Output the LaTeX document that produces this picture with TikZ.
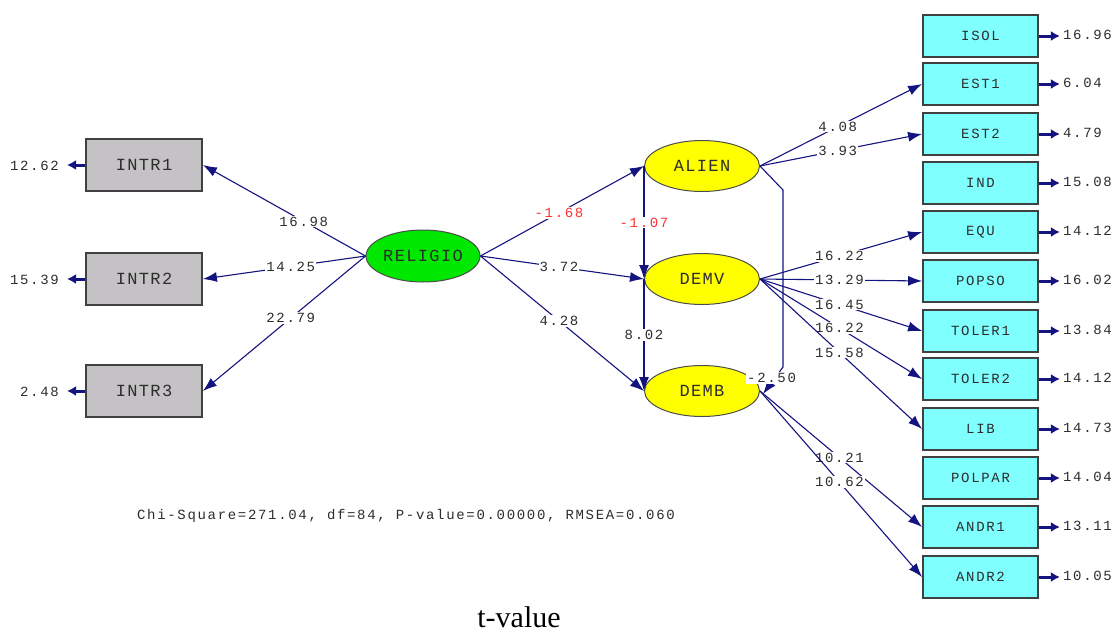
\documentclass[tikz,border=0pt]{standalone}
\usepackage{fontspec}
\usetikzlibrary{arrows.meta,shapes.geometric}
\newfontfamily\lisfont[LetterSpace=12]{Liberation Mono}
\newfontfamily\lisbig[LetterSpace=8]{Liberation Mono}
\setmainfont{Liberation Serif}
\definecolor{linec}{RGB}{20,20,128}
\definecolor{boxgrey}{RGB}{196,194,196}
\definecolor{boxcyan}{RGB}{128,255,255}
\definecolor{latyel}{RGB}{255,255,0}
\definecolor{latgreen}{RGB}{0,232,0}
\definecolor{txtc}{RGB}{45,45,45}
\definecolor{redc}{RGB}{255,50,50}
\tikzset{
  lat/.style={ellipse, draw=black!70, line width=1pt, minimum width=115, minimum height=51, inner sep=0pt, font=\fontsize{17}{17}\lisbig, text=txtc},
  gbox/.style={rectangle, draw=black!75, line width=1.8pt, fill=boxgrey, minimum width=116, minimum height=52, inner sep=0pt, font=\fontsize{17}{17}\lisbig, text=txtc},
  cbox/.style={rectangle, draw=black!75, line width=1.8pt, fill=boxcyan, minimum width=115, minimum height=42, inner sep=0pt, font=\fontsize{14}{14}\lisfont, text=txtc},
  arr/.style={draw=linec, line width=1.1pt, -{Latex[length=14pt,width=10pt]}},
  errarr/.style={draw=linec, line width=3pt, -{Latex[length=9pt,width=10pt]}},
  lab/.style={fill=white, inner sep=1pt, font=\fontsize{14}{14}\lisfont, text=txtc},
  rlab/.style={lab, text=redc},
  elab/.style={inner sep=1pt, font=\fontsize{14}{14}\lisfont, text=txtc},
}
\begin{document}
\begin{tikzpicture}[x=1pt,y=-1pt]
\useasboundingbox[fill=white] (0,0) rectangle (1115,632);
% latent variables
\node[lat, fill=latgreen, minimum width=114, minimum height=52] (REL) at (423,256) {RELIGIO};
\node[lat, fill=latyel] (ALIEN) at (702,166) {ALIEN};
\node[lat, fill=latyel] (DEMV) at (702,279) {DEMV};
\node[lat, fill=latyel] (DEMB) at (702,391) {DEMB};
% left indicators
\node[gbox] (INTR1) at (144,165) {INTR1};
\node[gbox] (INTR2) at (144,279) {INTR2};
\node[gbox] (INTR3) at (144,391) {INTR3};
% right indicators
\node[cbox] (ISOL) at (980.5,36) {ISOL};
\node[cbox] (EST1) at (980.5,84) {EST1};
\node[cbox] (EST2) at (980.5,134) {EST2};
\node[cbox] (IND) at (980.5,183) {IND};
\node[cbox] (EQU) at (980.5,232) {EQU};
\node[cbox] (POPSO) at (980.5,281) {POPSO};
\node[cbox] (TOLER1) at (980.5,331) {TOLER1};
\node[cbox] (TOLER2) at (980.5,379) {TOLER2};
\node[cbox] (LIB) at (980.5,429) {LIB};
\node[cbox] (POLPAR) at (980.5,478) {POLPAR};
\node[cbox] (ANDR1) at (980.5,527) {ANDR1};
\node[cbox] (ANDR2) at (980.5,577) {ANDR2};
% left errors
\coordinate (e1) at (67,165);
\coordinate (e2) at (67,279);
\coordinate (e3) at (67,391);
\draw[errarr] (INTR1.west) -- (e1);
\draw[errarr] (INTR2.west) -- (e2);
\draw[errarr] (INTR3.west) -- (e3);
\node[elab, anchor=east] (le1) at (60,166) {12.62};
\node[elab, anchor=east] (le2) at (60,280) {15.39};
\node[elab, anchor=east] (le3) at (60,392) {2.48};
% right errors
\foreach \b/\v in {ISOL/16.96, EST1/6.04, EST2/4.79, IND/15.08, EQU/14.12, POPSO/16.02, TOLER1/13.84, TOLER2/14.12, LIB/14.73, POLPAR/14.04, ANDR1/13.11, ANDR2/10.05}{
  \coordinate (r\b) at ([xshift=21]\b.east);
  \draw[errarr] (\b.east) -- (r\b);
  \node[elab, anchor=west] (rl\b) at ([xshift=23,yshift=1]\b.east) {\v};
}
% RELIGIO paths
\draw[arr] (REL.west) -- node[lab, pos=0.38] {16.98} (INTR1.east);
\draw[arr] (REL.west) -- node[lab, pos=0.46] {14.25} (INTR2.east);
\draw[arr] (REL.west) -- node[lab, pos=0.46] {22.79} (INTR3.east);
\draw[arr] (REL.east) -- node[rlab, pos=0.48] {-1.68} (ALIEN.west);
\draw[arr] (REL.east) -- node[lab, pos=0.48] {3.72} (DEMV.west);
\draw[arr] (REL.east) -- node[lab, pos=0.48] {4.28} (DEMB.west);
% structural among latents
\draw[arr] (ALIEN.west) -- node[rlab, pos=0.5] {-1.07} (DEMV.west);
\draw[arr] (DEMV.west) -- node[lab, pos=0.5] {8.02} (DEMB.west);
% correlation ALIEN - DEMB
\coordinate (c1) at (783,190);
\coordinate (c2) at (783,367);
\draw[arr] (ALIEN.east) -- (c1) -- (c2) -- ([xshift=3,yshift=-3]DEMB.east);
\node[lab, anchor=west] (corr) at (746,378) {-2.50};
% loadings
\draw[arr] (ALIEN.east) -- node[lab, pos=0.48] {4.08} (EST1.west);
\draw[arr] (ALIEN.east) -- node[lab, pos=0.48] {3.93} (EST2.west);
\draw[arr] (DEMV.east) -- node[lab, pos=0.49] {16.22} (EQU.west);
\draw[arr] (DEMV.east) -- node[lab, pos=0.49] {13.29} (POPSO.west);
\draw[arr] (DEMV.east) -- node[lab, pos=0.49] {16.45} (TOLER1.west);
\draw[arr] (DEMV.east) -- node[lab, pos=0.49] {16.22} (TOLER2.west);
\draw[arr] (DEMV.east) -- node[lab, pos=0.49] {15.58} (LIB.west);
\draw[arr] (DEMB.east) -- node[lab, pos=0.49] {10.21} (ANDR1.west);
\draw[arr] (DEMB.east) -- node[lab, pos=0.49] {10.62} (ANDR2.west);
% fit text
\node[elab] (fit) at (406,516) {Chi-Square=271.04, df=84, P-value=0.00000, RMSEA=0.060};
\node[font=\fontsize{30}{30}\selectfont, text=black, anchor=base, inner sep=0pt] (tv) at (519,627) {t-value};
\end{tikzpicture}
\end{document}
